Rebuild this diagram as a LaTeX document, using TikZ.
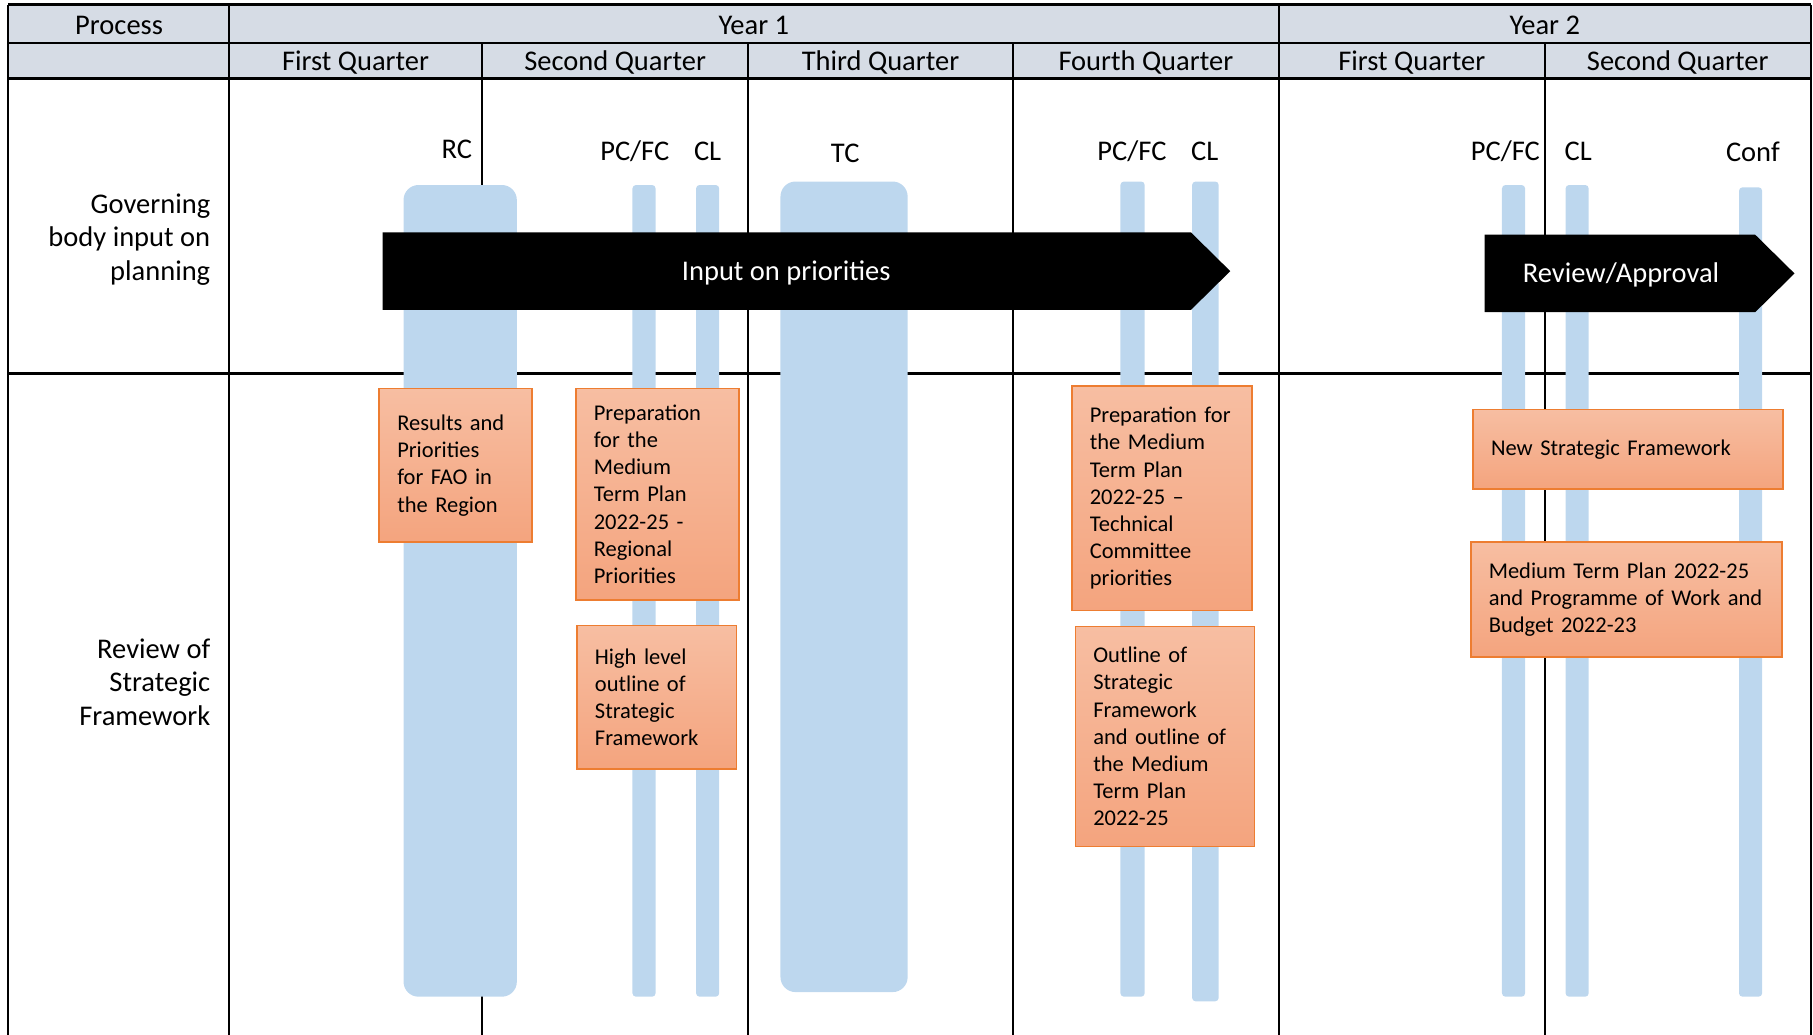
\documentclass[tikz,border=0pt]{standalone}
\usepackage{fontspec}
\setmainfont{Carlito}
\definecolor{headgray}{HTML}{D6DCE5}
\definecolor{barblue}{HTML}{BDD7EE}
\definecolor{boxline}{HTML}{ED7D31}
\definecolor{boxtop}{HTML}{F7BEA2}
\definecolor{boxbottom}{HTML}{F4A47E}
\newcommand{\headfont}{\fontsize{28.5}{33.5}\selectfont}
\newcommand{\boxfont}{\fontsize{22.5}{27.2}\selectfont}
\newcommand{\upx}{1.1562pt}
\tikzset{
    grid line/.style={line width=2.4pt},
    meeting bar/.style={fill=barblue, rounded corners=3.5pt},
    session bar/.style={fill=barblue, rounded corners=15pt},
    head text/.style={font=\headfont, inner sep=0pt},
    arrow text/.style={font=\headfont, text=white, inner sep=0pt},
    output box/.style={draw=boxline, line width=1.6pt, top color=boxtop, bottom color=boxbottom,
            font=\boxfont, align=left, inner xsep=18pt, inner ysep=0pt},
}

\begin{document}
\begin{tikzpicture}[x=\upx, y=-\upx]
        \useasboundingbox (0,0) rectangle (1568,895);
        %header cells
        \fill[headgray] (7,4) rectangle (1566,68);
        %table lines
        \draw[grid line] (7,4) -- (1566,4);
        \draw[grid line] (7,37) -- (1566,37);
        \draw[grid line] (7,68) -- (1566,68);
        \draw[grid line] (7,323) -- (1566,323);
        \draw[grid line] (7,4) -- (7,895);
        \draw[grid line] (198,4) -- (198,895);
        \draw[grid line] (1106,4) -- (1106,895);
        \draw[grid line] (1566,4) -- (1566,895);
        \draw[grid line] (417,37) -- (417,895);
        \draw[grid line] (647,37) -- (647,895);
        \draw[grid line] (876,37) -- (876,895);
        \draw[grid line] (1336,37) -- (1336,895);
        %header texts
        \node[head text] (process) at (103,22) {Process};
        \node[head text] (yearone) at (652,22) {Year 1};
        \node[head text] (yeartwo) at (1336,22) {Year 2};
        \node[head text] (yoneqone) at (307.5,54) {First Quarter};
        \node[head text] (yoneqtwo) at (532,54) {Second Quarter};
        \node[head text] (yoneqthree) at (761.5,54) {Third Quarter};
        \node[head text] (yoneqfour) at (991,54) {Fourth Quarter};
        \node[head text] (ytwoqone) at (1221,54) {First Quarter};
        \node[head text] (ytwoqtwo) at (1451,54) {Second Quarter};
        %row labels
        \node[head text, align=right, anchor=east] (govlabel) at (182,207) {Governing\\body input on\\planning};
        \node[head text, align=right, anchor=east] (reviewlabel) at (182,590) {Review of\\Strategic\\Framework};
        %sessions
        \fill[session bar] (349,160) rectangle (447,862);
        \fill[session bar] (675,157) rectangle (785,858);
        \fill[meeting bar] (547,160) rectangle (567,862);
        \fill[meeting bar] (602,160) rectangle (622,862);
        \fill[meeting bar] (969,157) rectangle (990,862);
        \fill[meeting bar] (1031,157) rectangle (1054,866);
        \fill[meeting bar] (1299,160) rectangle (1319,862);
        \fill[meeting bar] (1354,160) rectangle (1374,862);
        \fill[meeting bar] (1504,162) rectangle (1524,862);
        %session labels
        \node[head text] (rc) at (395,129) {RC};
        \node[head text] (pcfcone) at (549,131) {PC/FC};
        \node[head text] (clone) at (612,131) {CL};
        \node[head text] (tc) at (731,133) {TC};
        \node[head text] (pcfctwo) at (979,131) {PC/FC};
        \node[head text] (cltwo) at (1042,131) {CL};
        \node[head text] (pcfcthree) at (1302,131) {PC/FC};
        \node[head text] (clthree) at (1365,131) {CL};
        \node[head text] (conf) at (1516,131) {Conf};
        %governing body arrows
        \fill[black] (331,201) -- (1030,201) -- (1064,234.5) -- (1030,268) -- (331,268) -- cycle;
        \node[arrow text] (inputarrow) at (680,236) {Input on priorities};
        \fill[black] (1284,203) -- (1518,203) -- (1552,236.5) -- (1518,270) -- (1284,270) -- cycle;
        \node[arrow text] (approvalarrow) at (1402,238) {Review/Approval};
        %outputs
        \node[output box, text width=116.6pt, minimum height=133*\upx] (results) at (394,402.5)
            {Results and\\Priorities\\for FAO in\\the Region};
        \node[output box, text width=127pt, minimum height=183*\upx] (prepregional) at (568.5,427.5)
            {Preparation\\for the\\Medium\\Term Plan\\2022-25 -\\Regional\\Priorities};
        \node[output box, text width=123.6pt, minimum height=124*\upx] (highlevel) at (568,603)
            {High level\\outline of\\Strategic\\Framework};
        \node[output box, text width=144.4pt, minimum height=194*\upx] (preptechnical) at (1005,431)
            {Preparation for\\the Medium\\Term Plan\\2022-25 --\\Technical\\Committee\\priorities};
        \node[output box, text width=143.2pt, minimum height=190*\upx] (outline) at (1007.5,637)
            {Outline of\\Strategic\\Framework\\and outline of\\the Medium\\Term Plan\\2022-25};
        \node[output box, text width=273.9pt, minimum height=69*\upx] (newframework) at (1408,388.5)
            {New Strategic Framework};
        \node[output box, text width=275pt, minimum height=99*\upx] (mtp) at (1406.5,518.5)
            {Medium Term Plan 2022-25\\and Programme of Work and\\Budget 2022-23};
    \end{tikzpicture}
\end{document}
